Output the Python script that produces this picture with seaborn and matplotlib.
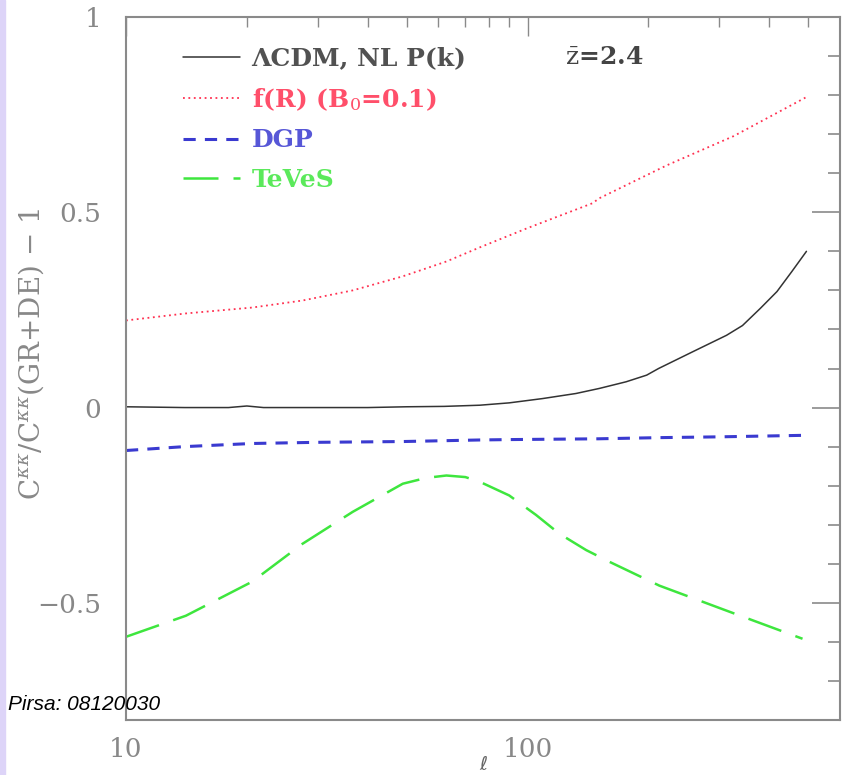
import numpy as np
import pandas as pd
import matplotlib
matplotlib.use("Agg")
import matplotlib.pyplot as plt
import seaborn as sns
from matplotlib.ticker import FixedLocator, NullFormatter
from matplotlib.lines import Line2D
from matplotlib.patches import Rectangle

# values
ell_lcdm = [10, 14, 18, 20, 22, 30, 40, 50, 62, 76, 90, 109, 132, 151, 176, 198, 212, 258, 313, 343,
            380, 418, 455, 495]
lcdm = [0.002, 0.0, 0.0, 0.004, 0.0, 0.0, 0.0, 0.002, 0.003, 0.006, 0.012, 0.023, 0.036, 0.049, 0.066,
        0.083, 0.10, 0.143, 0.185, 0.21, 0.254, 0.297, 0.348, 0.40]

ell_fr = [10, 14.1, 20.6, 27.5, 36.7, 48.9, 62.8, 76, 99.7, 145, 151, 222, 326, 495]
fr = [0.223, 0.241, 0.256, 0.274, 0.30, 0.336, 0.374, 0.41, 0.459, 0.523, 0.536, 0.62, 0.695, 0.795]

ell_dgp = [10, 14, 20.6, 30, 48.9, 76, 90, 150, 213, 300, 495]
dgp = [-0.11, -0.10, -0.092, -0.089, -0.087, -0.083, -0.082, -0.080, -0.077, -0.075, -0.071]

ell_teves = [10, 14.1, 20.6, 27.5, 36.7, 48.9, 56, 62.8, 70, 76, 90, 105, 120, 140, 160, 213, 313, 484]
teves = [-0.587, -0.533, -0.446, -0.349, -0.267, -0.195, -0.18, -0.174, -0.178, -0.19, -0.225, -0.275,
         -0.323, -0.365, -0.395, -0.456, -0.52, -0.592]

labels = ["\u039bCDM, NL P(k)", "f(R) (B$_0$=0.1)", "DGP", "TeVeS"]
colors = ["#333333", "#ff3050", "#3a3ad0", "#3ee63e"]

sns.set_theme(style="white")
plt.rcParams["font.family"] = ["DejaVu Serif", "DejaVu Sans"]
plt.rcParams["mathtext.fontset"] = "dejavuserif"

fig = plt.figure(figsize=(8.46, 7.75), dpi=100)
ax = fig.add_axes([126 / 846, 1 - 720 / 775, (840 - 126) / 846, (720 - 17) / 775])

series = [
    (ell_lcdm, lcdm, dict(linestyle="-", linewidth=1.1)),
    (ell_fr, fr, dict(linestyle=(0, (1, 2)), linewidth=1.3)),
    (ell_dgp, dgp, dict(linestyle=(0, (4, 3)), linewidth=2.2)),
    (ell_teves, teves, dict(linestyle=(0, (14, 6)), linewidth=1.8)),
]
for (xs, ys, st), c in zip(series, colors):
    df = pd.DataFrame({"ell": xs, "val": ys})
    sns.lineplot(data=df, x="ell", y="val", ax=ax, color=c, sort=True, **st)

ax.set_xscale("log")
ax.set_xlim(10, 600)
ax.set_ylim(-0.8, 1.0)

ax.xaxis.set_major_locator(FixedLocator([10, 100]))
ax.xaxis.set_minor_locator(FixedLocator([20, 30, 40, 50, 60, 70, 80, 90, 200, 300, 400, 500]))
ax.xaxis.set_minor_formatter(NullFormatter())
ax.set_xticklabels(["10", "100"])
ax.yaxis.set_major_locator(FixedLocator([-0.5, 0, 0.5, 1.0]))
ax.yaxis.set_minor_locator(FixedLocator(np.arange(-0.7, 1.0, 0.1)))
ax.set_yticklabels(["\u22120.5", "0", "0.5", "1"])

gray = "#8a8a8a"
for sp in ax.spines.values():
    sp.set_color(gray)
    sp.set_linewidth(1.5)
ax.tick_params(which="both", direction="in", top=True, right=True, colors=gray,
               labelcolor="#888888", labelsize=19)
ax.tick_params(axis="y", which="major", length=20, width=1.2, pad=18)
ax.tick_params(axis="y", which="minor", length=9, width=1.2)
ax.tick_params(axis="x", which="major", length=14, width=1.0, pad=12)
ax.tick_params(axis="x", which="minor", length=7, width=1.0)

ax.set_xlabel("\u2113", fontsize=14, color="#666666", labelpad=-4)
ax.set_ylabel(r"C$^{\kappa\kappa}$/C$^{\kappa\kappa}$(GR+DE) $-$ 1", fontsize=20,
              color="#888888")
ax.yaxis.set_label_coords(-0.112, 0.52)

handles = [Line2D([], [], color=c, **st) for (_, _, st), c in zip(series, colors)]
leg = ax.legend(handles, labels, loc="upper left", bbox_to_anchor=(0.048, 0.99),
                frameon=False, handlelength=2.3, handletextpad=0.45,
                labelspacing=0.62, prop={"family": "DejaVu Serif", "weight": "bold", "size": 18})
for t, c in zip(leg.get_texts(), colors):
    t.set_color(c)
    t.set_alpha(0.85)

ax.text(0.615, 0.943, r"$\bar{\rm z}$=2.4", transform=ax.transAxes, fontsize=18,
        color="#444444", fontweight="bold", va="center")

fig.text(8 / 846, 1 - 705 / 775, "Pirsa: 08120030", fontsize=15, style="italic",
         family=["Liberation Sans", "DejaVu Sans"], color="black", va="center")
fig.patches.append(Rectangle((0, 0), 5 / 846, 1, transform=fig.transFigure,
                             color="#ddd4f8", zorder=0))

fig.savefig("out.png", dpi=100)
